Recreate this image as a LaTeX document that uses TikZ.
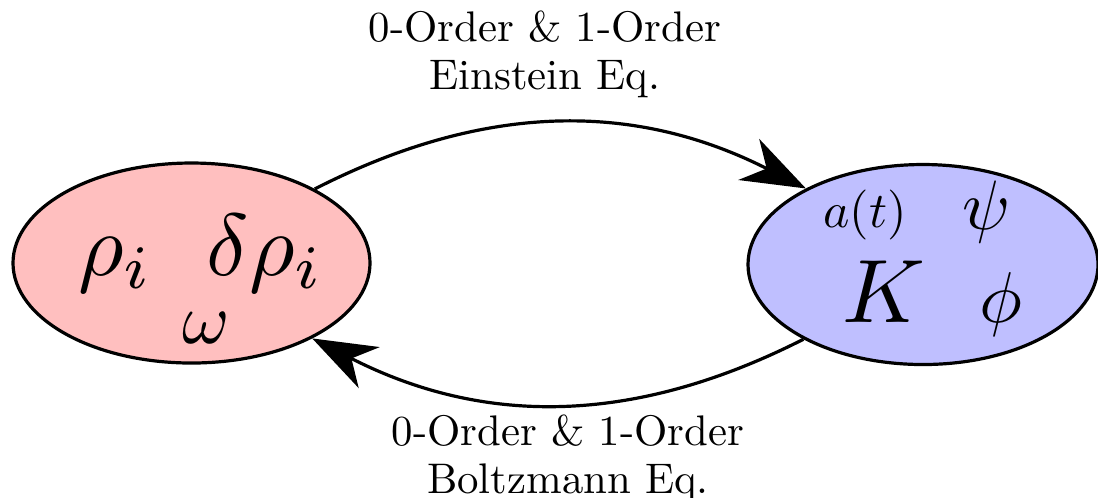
\documentclass[tikz,border=0pt]{standalone}
\usetikzlibrary{arrows.meta,shapes.geometric}
\begin{document}
\begin{tikzpicture}[x=0.25pt,y=-0.25pt,
  blob/.style={ellipse, draw=black, line width=0.8pt, inner sep=0pt},
  sym/.style={anchor=base, inner sep=0pt, transform shape, scale=#1},
  lbl/.style={align=center, inner sep=0pt, font=\fontsize{10.7}{12}\selectfont},
  conn/.style={line width=0.8pt, -{Stealth[length=16pt,width=11.5pt,inset=5pt]}}]
\useasboundingbox (0,0) rectangle (1098,497);
\node[blob, fill=red!25, minimum width=89.25pt, minimum height=50pt] (L) at (191.5,263) {};
\node[blob, fill=blue!25, minimum width=87.5pt, minimum height=50pt] (R) at (923,264.5) {};
\node[sym=2.2] (rho) at (115.5,275) {$\rho_i$};
\node[sym=2.2] (drho) at (265.5,275) {$\delta\rho_i$};
\node[sym=1.8] (om) at (206.5,343) {$\omega$};
\node[sym=1.25] (at) at (865,227) {$a(t)$};
\node[sym=1.75] (psi) at (987,229) {$\psi$};
\node[sym=2.25] (K) at (883.5,322) {$K$};
\node[sym=1.8] (phi) at (1000.5,322) {$\phi$};
\node[lbl] (top) at (545,54) {0-Order \& 1-Order\\Einstein Eq.};
\node[lbl] (bot) at (568,458) {0-Order \& 1-Order\\Boltzmann Eq.};
\draw[conn] (L.31) to[bend left=27] (R.147);
\draw[conn] (R.212.5) to[bend left=27] (L.328);
\end{tikzpicture}
\end{document}
